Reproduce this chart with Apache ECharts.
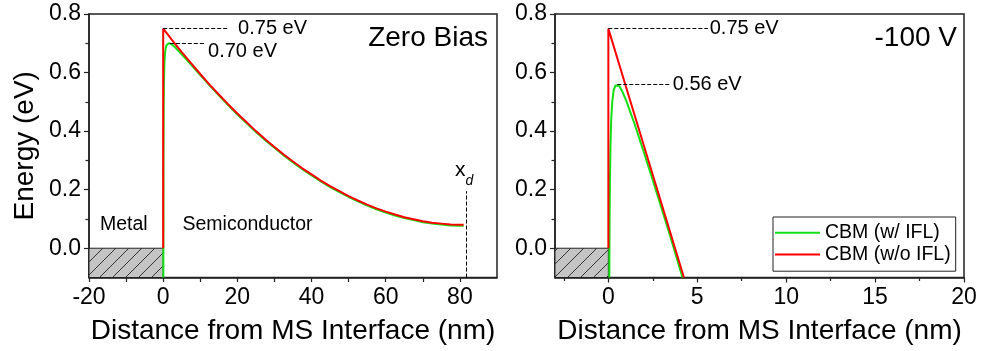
<!DOCTYPE html>
<html>
<head>
<meta charset="utf-8">
<script src="https://cdn.jsdelivr.net/npm/echarts@6/dist/echarts.min.js"></script>
<style>
  html, body { margin: 0; padding: 0; background: #fff; }
  #chart { width: 981px; height: 351px; }
</style>
</head>
<body>
<div id="chart"></div>
<script>
// ---- Zero bias: conduction band minimum vs distance (nm, eV) ----
// without image-force lowering
const zbNoIflX = [0, 0, 1, 2.5, 5, 7.5, 10, 12.5, 15, 17.5, 20, 22.5, 25, 27.5, 30, 32.5, 35, 37.5, 40, 42.5, 45, 47.5, 50, 52.5, 55, 57.5, 60, 62.5, 65, 67.5, 70, 72.5, 75, 77.5, 80, 81];
const zbNoIflE = [0, 0.750, 0.734, 0.709, 0.670, 0.632, 0.595, 0.559, 0.525, 0.492, 0.460, 0.430, 0.400, 0.372, 0.346, 0.320, 0.296, 0.273, 0.252, 0.231, 0.212, 0.195, 0.178, 0.163, 0.149, 0.136, 0.125, 0.115, 0.106, 0.099, 0.092, 0.087, 0.084, 0.081, 0.080, 0.080];
// with image-force lowering
const zbIflX = [0.045, 0.06, 0.08, 0.1, 0.15, 0.2, 0.3, 0.4, 0.55, 0.7, 0.9, 1.2, 1.5, 1.8, 2.2, 2.5, 3, 4, 5, 7.5, 10, 12.5, 15, 17.5, 20, 22.5, 25, 27.5, 30, 32.5, 35, 37.5, 40, 42.5, 45, 47.5, 50, 52.5, 55, 57.5, 60, 62.5, 65, 67.5, 70, 72.5, 75, 77.5, 80, 81];
const zbIflE = [-0.1, 0.120, 0.277, 0.372, 0.495, 0.557, 0.619, 0.649, 0.672, 0.684, 0.693, 0.699, 0.700, 0.700, 0.697, 0.694, 0.689, 0.676, 0.662, 0.627, 0.591, 0.556, 0.522, 0.489, 0.457, 0.427, 0.397, 0.369, 0.343, 0.317, 0.293, 0.270, 0.249, 0.228, 0.209, 0.192, 0.175, 0.160, 0.146, 0.133, 0.122, 0.112, 0.103, 0.096, 0.089, 0.084, 0.081, 0.078, 0.077, 0.077];

// ---- -100 V reverse bias ----
const rbNoIflX = [0, 0, 1, 2, 3, 4.25];
const rbNoIflE = [0, 0.750, 0.550, 0.350, 0.150, -0.1];
const rbIflX = [0.055, 0.07, 0.09, 0.12, 0.16, 0.22, 0.3, 0.4, 0.5, 0.6, 0.75, 1.0, 1.5, 2, 2.5, 3, 3.5, 4.17];
const rbIflE = [-0.1, 0.093, 0.232, 0.351, 0.437, 0.500, 0.540, 0.556, 0.560, 0.555, 0.540, 0.505, 0.420, 0.327, 0.232, 0.135, 0.037, -0.1];

// barrier heights quoted on the plot (eV)
const barrierNoIfl = 0.75;
const barrierZeroBiasIfl = 0.70;
const barrierReverseIfl = 0.56;
// depletion width at zero bias (nm)
const depletionEdge = 81.8;

// ticks
const leftXMajor = [-20, 0, 20, 40, 60, 80];
const rightXMajor = [0, 5, 10, 15, 20];
const rightXMinor = [-2.5, 2.5, 7.5, 12.5, 17.5];
const yMajor = [0, 0.2, 0.4, 0.6, 0.8];
const yMinor = [0.1, 0.3, 0.5, 0.7];

const seriesNames = ['CBM (w/ IFL)', 'CBM (w/o IFL)'];

const FONT = "'Liberation Sans', Arial, Helvetica, sans-serif";
const INK = '#222';
const GREEN = '#12e012';
const RED = '#ff0000';

const zip = (xs, ys) => xs.map((x, i) => [x, ys[i]]);
const inList = (list, v) => list.some(t => Math.abs(t - Number(v)) < 1e-9);

// grey tile with a diagonal stroke for the metal side
function hatchTile() {
  const c = document.createElement('canvas');
  c.width = 13; c.height = 13;
  const g = c.getContext('2d');
  g.fillStyle = '#c4c4c4';
  g.fillRect(0, 0, 13, 13);
  g.strokeStyle = '#333';
  g.lineWidth = 1;
  g.beginPath();
  g.moveTo(-1, 14); g.lineTo(14, -1);
  g.stroke();
  return c;
}
const hatch = { image: hatchTile(), repeat: 'repeat' };

const axisName = {
  name: 'Distance from MS Interface (nm)',
  nameLocation: 'middle', nameGap: 40,
  nameTextStyle: { fontSize: 28, color: '#000', fontFamily: FONT }
};
const labelFor = major => ({
  fontSize: 23, fontFamily: FONT, margin: 9,
  color: v => inList(major, v) ? '#000' : 'rgba(0,0,0,0)',
  formatter: v => inList(major, v) ? String(v) : ' '
});

// left panel: one tick every 10 nm, labels every 20 nm; the 90 nm end stays unlabelled
const leftX = Object.assign({
  gridIndex: 0, type: 'value', min: -20, max: 90, interval: 10, position: 'bottom',
  axisLine: { show: true, onZero: false, lineStyle: { color: INK, width: 1.5 } },
  axisTick: { show: true, length: 4.5, lineStyle: { color: INK, width: 1.2 } },
  axisLabel: Object.assign(labelFor(leftXMajor), { showMaxLabel: false }),
  splitLine: { show: false }
}, axisName);

// right panel: labelled ticks every 5 nm plus short ticks in between
const rightX = Object.assign({
  gridIndex: 1, type: 'value', min: -3, max: 20, interval: 1, position: 'bottom',
  axisLine: { show: true, onZero: false, lineStyle: { color: INK, width: 1.5 } },
  axisTick: { show: true, customValues: rightXMajor, length: 5, lineStyle: { color: INK, width: 1.2 } },
  axisLabel: labelFor(rightXMajor),
  splitLine: { show: false }
}, axisName);
const rightXMinorAxis = {
  gridIndex: 1, type: 'value', min: -3, max: 20, position: 'bottom',
  axisLine: { show: false, onZero: false },
  axisTick: { show: true, customValues: rightXMinor, length: 3.5, lineStyle: { color: INK, width: 1.2 } },
  axisLabel: { show: false }, splitLine: { show: false }
};

function mainY(gridIndex, withName) {
  return {
    gridIndex, type: 'value', min: -0.1, max: 0.8, position: 'left',
    axisLine: { show: true, onZero: false, lineStyle: { color: INK, width: 1.5 } },
    axisTick: { show: true, customValues: yMajor, length: 5, lineStyle: { color: INK, width: 1.2 } },
    axisLabel: { customValues: yMajor, fontSize: 23, color: '#000', fontFamily: FONT, margin: 8,
                 formatter: v => inList(yMajor, v) ? Number(v).toFixed(1) : ' ' },
    splitLine: { show: false },
    name: withName ? 'Energy (eV)' : '',
    nameLocation: 'middle', nameGap: 50,
    nameTextStyle: { fontSize: 28, color: '#000', fontFamily: FONT }
  };
}
function minorY(gridIndex) {
  return {
    gridIndex, type: 'value', min: -0.1, max: 0.8, position: 'left',
    axisLine: { show: false, onZero: false },
    axisTick: { show: true, customValues: yMinor, length: 3.5, lineStyle: { color: INK, width: 1.2 } },
    axisLabel: { show: false }, splitLine: { show: false }
  };
}

const dashed = { color: '#000', width: 1, type: [4, 2] };
const annLabel = (text, offset) => ({
  show: true, position: 'right', distance: 0, offset: offset || [0, 0],
  formatter: text, fontSize: 20, color: '#000', fontFamily: FONT
});
const fmtEv = v => v.toFixed(2) + ' eV';

const option = {
  animation: false,
  backgroundColor: '#fff',
  grid: [
    { left: 89, top: 14, width: 408, height: 263.5, show: true, borderColor: INK, borderWidth: 1.5, backgroundColor: 'transparent' },
    { left: 555, top: 14, width: 409, height: 263.5, show: true, borderColor: INK, borderWidth: 1.5, backgroundColor: 'transparent' }
  ],
  xAxis: [leftX, rightX, rightXMinorAxis],
  yAxis: [mainY(0, true), minorY(0), mainY(1, false), minorY(1)],
  legend: {
    data: seriesNames,
    orient: 'vertical', left: 773, top: 217,
    icon: 'rect', itemWidth: 45, itemHeight: 2, itemGap: 0,
    padding: [5, 5, 6, 2],
    borderColor: INK, borderWidth: 1, backgroundColor: '#fff',
    selectedMode: false,
    textStyle: { fontSize: 19.5, lineHeight: 21.6, color: '#000', fontFamily: FONT }
  },
  series: [
    {
      name: seriesNames[0], type: 'line', xAxisIndex: 0, yAxisIndex: 0,
      data: zip(zbIflX, zbIflE), symbol: 'none', color: GREEN,
      lineStyle: { color: GREEN, width: 2 }, z: 3,
      markArea: {
        silent: true,
        itemStyle: { color: hatch, borderColor: INK, borderWidth: 1 },
        data: [[{ coord: [-20, -0.1] }, { coord: [0, 0] }]]
      }
    },
    {
      name: seriesNames[1], type: 'line', xAxisIndex: 0, yAxisIndex: 0,
      data: zip(zbNoIflX, zbNoIflE), symbol: 'none', color: RED,
      lineStyle: { color: RED, width: 2 }, z: 4,
      markLine: {
        silent: true, symbol: 'none', label: { show: false }, lineStyle: dashed,
        data: [
          [{ coord: [0, barrierNoIfl] }, { coord: [17.5, barrierNoIfl] }],
          [{ coord: [1.8, barrierZeroBiasIfl] }, { coord: [11.5, barrierZeroBiasIfl] }],
          [{ coord: [depletionEdge, -0.1] }, { coord: [depletionEdge, 0.195] }]
        ]
      },
      markPoint: {
        silent: true, symbol: 'circle', symbolSize: 0,
        data: [
          { coord: [20.2, barrierNoIfl], label: annLabel(fmtEv(barrierNoIfl)) },
          { coord: [12.1, barrierZeroBiasIfl], label: annLabel(fmtEv(barrierZeroBiasIfl), [0, 8]) }
        ]
      }
    },
    {
      name: seriesNames[0], type: 'line', xAxisIndex: 1, yAxisIndex: 2,
      data: zip(rbIflX, rbIflE), symbol: 'none', color: GREEN,
      lineStyle: { color: GREEN, width: 2 }, z: 3,
      markArea: {
        silent: true,
        itemStyle: { color: hatch, borderColor: INK, borderWidth: 1 },
        data: [[{ coord: [-3, -0.1] }, { coord: [0, 0] }]]
      }
    },
    {
      name: seriesNames[1], type: 'line', xAxisIndex: 1, yAxisIndex: 2,
      data: zip(rbNoIflX, rbNoIflE), symbol: 'none', color: RED,
      lineStyle: { color: RED, width: 2 }, z: 4,
      markLine: {
        silent: true, symbol: 'none', label: { show: false }, lineStyle: dashed,
        data: [
          [{ coord: [0, barrierNoIfl] }, { coord: [5.6, barrierNoIfl] }],
          [{ coord: [0.5, barrierReverseIfl] }, { coord: [3.45, barrierReverseIfl] }]
        ]
      },
      markPoint: {
        silent: true, symbol: 'circle', symbolSize: 0,
        data: [
          { coord: [5.7, barrierNoIfl], label: annLabel(fmtEv(barrierNoIfl)) },
          { coord: [3.62, barrierReverseIfl], label: annLabel(fmtEv(barrierReverseIfl)) }
        ]
      }
    }
  ],
  graphic: [
    { type: 'text', x: 488, y: 38, style: { text: 'Zero Bias', fontSize: 28, fontFamily: FONT, fill: '#000', align: 'right', verticalAlign: 'middle' } },
    { type: 'text', x: 957, y: 38, style: { text: '-100 V', fontSize: 28, fontFamily: FONT, fill: '#000', align: 'right', verticalAlign: 'middle' } },
    { type: 'text', x: 100, y: 225, style: { text: 'Metal', fontSize: 19.5, fontFamily: FONT, fill: '#000', align: 'left', verticalAlign: 'middle' } },
    { type: 'text', x: 182.5, y: 225, style: { text: 'Semiconductor', fontSize: 19.5, fontFamily: FONT, fill: '#000', align: 'left', verticalAlign: 'middle' } },
    { type: 'text', x: 455, y: 170, style: { text: 'x', fontSize: 21, fontFamily: FONT, fill: '#000', align: 'left', verticalAlign: 'middle' } },
    { type: 'text', x: 465.5, y: 181, style: { text: 'd', fontSize: 14, fontStyle: 'italic', fontFamily: FONT, fill: '#000', align: 'left', verticalAlign: 'middle' } }
  ]
};

const chart = echarts.init(document.getElementById('chart'), null, { renderer: 'canvas' });
chart.setOption(option);
</script>
</body>
</html>
